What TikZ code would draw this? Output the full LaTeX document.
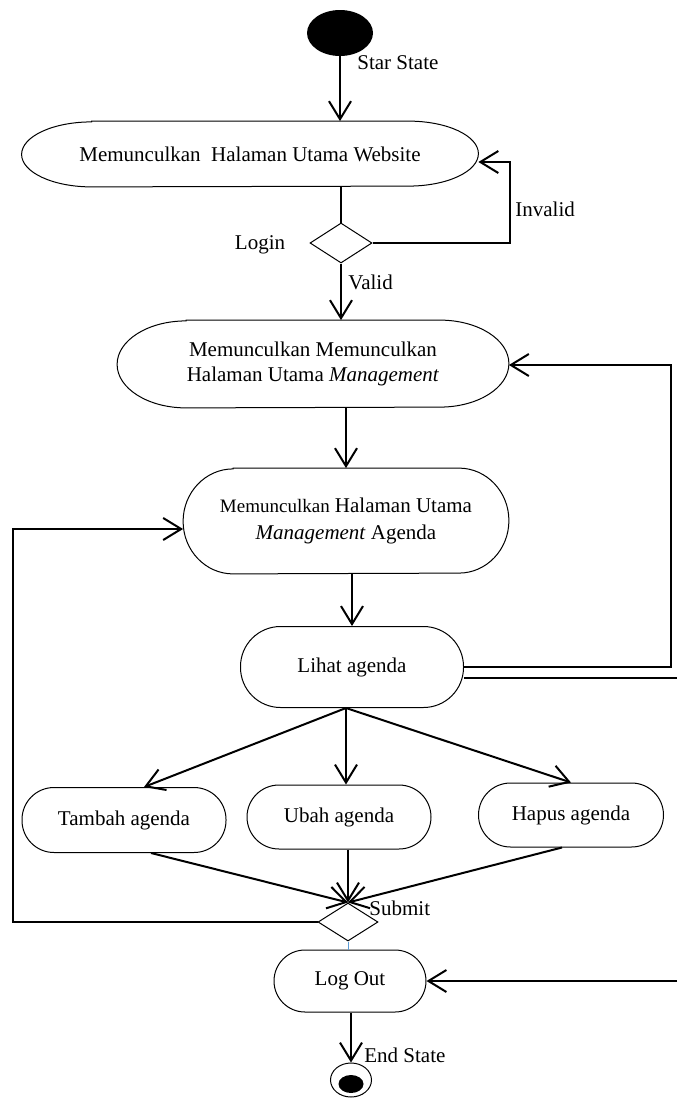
\documentclass[tikz,border=0pt]{standalone}
\usepackage{fontspec}
\setmainfont{Liberation Serif}
\usetikzlibrary{arrows.meta,shapes.geometric,positioning}
\definecolor{linkblue}{RGB}{91,155,213}
% border with elliptic ends round a node: name, x radius, y radius
\newcommand{\pillborder}[3]{%
  \draw[line width=0.5pt] ([xshift=#2]#1.north west) -- ([xshift=-#2]#1.north east)
    arc[start angle=90,end angle=-90,x radius=#2,y radius=#3]
    -- ([xshift=#2]#1.south west)
    arc[start angle=270,end angle=90,x radius=#2,y radius=#3] -- cycle;}

\begin{document}
\begin{tikzpicture}[x=0.5pt,y=-0.5pt,
  font=\fontsize{10.5}{12.5}\selectfont,
  line/.style={line width=1pt},
  flow/.style={line width=1pt,-{Straight Barb[length=9pt,width=11pt]}},
  pill/.style={align=center,inner sep=0pt},
  act/.style={draw,line width=0.5pt,align=center,inner sep=0pt},
  decision/.style={diamond,draw,line width=0.5pt,inner sep=0pt},
  lbl/.style={anchor=west,inner sep=0pt}]
\useasboundingbox (0,0) rectangle (677,1098);

\node[ellipse,fill=black,minimum width=33pt,minimum height=23pt,inner sep=0pt] (start) at (340,33) {};
\node[lbl] (startlbl) at (357,63) {Star State};

\node[pill,minimum width=228pt,minimum height=32.5pt] (web) at (250,154) {Memunculkan\ \ Halaman Utama Website};
\pillborder{web}{35pt}{16.25pt}
\node[decision,minimum width=31pt,minimum height=20pt] (login) at (341,243) {};
\node (loginlbl) at (260,245) {Login};
\node[lbl] (invlbl) at (515,209) {Invalid};
\node[lbl] (validlbl) at (348,282) {Valid};
\coordinate (invc) at (510,162);

\node[pill,minimum width=195.5pt,minimum height=43.5pt] (mgmt) at (313,364) {Memunculkan Memunculkan\\Halaman Utama \textit{Management}};
\pillborder{mgmt}{34.5pt}{21.75pt}
\coordinate (rloop) at (671,365);

\node[pill,minimum width=162.5pt,minimum height=52.5pt,font=\fontsize{10.5}{13.5}\selectfont] (agenda) at (346,521) {{\fontsize{9.5}{12}\selectfont Memunculkan} Halaman Utama\\\textit{Management} Agenda};
\pillborder{agenda}{25pt}{26.25pt}
\coordinate (lloop) at (13,529);

\node[act,rounded corners=20pt,minimum width=111.5pt,minimum height=40.5pt] (lihat) at (352,667) {Lihat agenda};
\coordinate (fork) at ([xshift=-3pt]lihat.south);
\coordinate (redgeA) at (677,678);

\node[act,rounded corners=16pt,minimum width=102pt,minimum height=32.5pt] (tambah) at (124,820) {Tambah agenda};
\node[act,rounded corners=16pt,minimum width=92pt,minimum height=32pt] (ubah) at (339,817) {Ubah agenda};
\node[act,rounded corners=16pt,minimum width=92.5pt,minimum height=32pt] (hapus) at (571,815) {Hapus agenda};

\node[decision,minimum width=30pt,minimum height=19pt] (submit) at (348,922) {};
\node[lbl] (submitlbl) at (369,908) {Submit};

\node[act,rounded corners=15.5pt,minimum width=76pt,minimum height=31pt] (logout) at (350,981) {Log Out};
\coordinate (redgeB) at (677,981);

\node[ellipse,draw,line width=0.5pt,minimum width=20.5pt,minimum height=17pt,inner sep=0pt] (finish) at (351,1080) {};
\node[ellipse,fill=black,minimum width=12.5pt,minimum height=9pt,inner sep=0pt] (finishdot) at (351,1084) {};
\node[lbl] (endlbl) at (364,1055) {End State};

\draw[flow] (start.south) -- (start.south |- web.north);
\draw[line] (web.south -| login.north) -- (login.north);
\draw[flow] (login.east) -| (invc) -- (invc -| web.east);
\draw[flow] (login.south) -- (login.south |- mgmt.north);
\draw[flow] (agenda.north |- mgmt.south) -- (agenda.north);
\draw[flow] (lihat.north |- agenda.south) -- (lihat.north);
\draw[flow] (lihat.east) -| (rloop) -- (rloop -| mgmt.east);
\draw[line] ([yshift=-5.5pt]lihat.east) -- (redgeA);
\draw[flow] (redgeB) -- (logout.east);
\draw[flow] (fork) -- ([xshift=10pt]tambah.north);
\draw[flow] (fork) -- (fork |- ubah.north);
\draw[flow] (fork) -- (hapus.north);
\draw[flow] ([xshift=13.5pt]tambah.south) -- (submit.north);
\draw[flow] (submit.north |- ubah.south) -- (submit.north);
\draw[flow] ([xshift=-4.5pt]hapus.south) -- (submit.north);
\draw[flow] (submit.west) -| (lloop) -- (lloop -| agenda.west);
\draw[linkblue,line width=0.5pt] (submit.south) -- (submit.south |- logout.north);
\draw[flow] (finish.north |- logout.south) -- (finish.north);
\end{tikzpicture}
\end{document}
